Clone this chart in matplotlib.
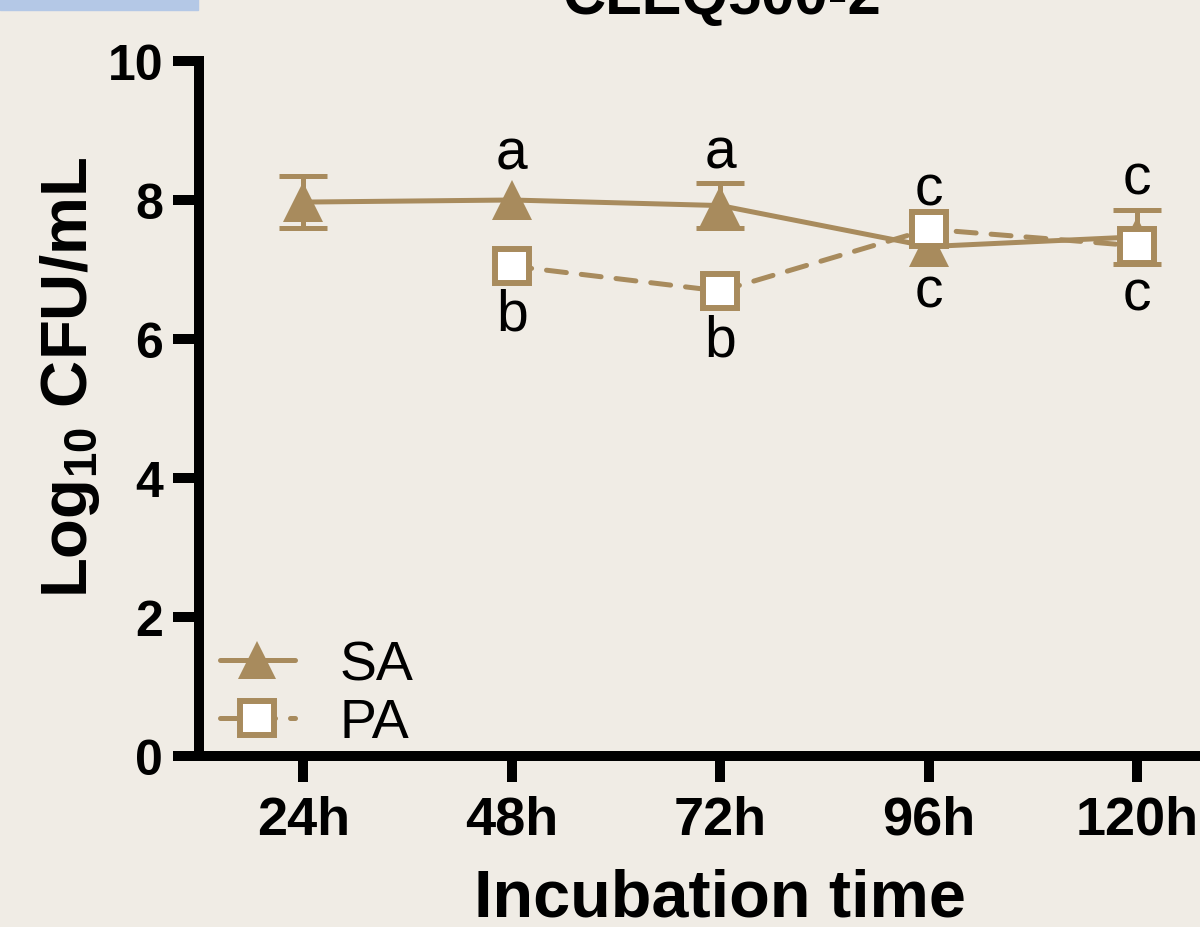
import matplotlib
matplotlib.use("Agg")
import matplotlib.pyplot as plt
from matplotlib.lines import Line2D
from matplotlib.patches import Rectangle
import numpy as np

# ---- data ----
times = ["24h", "48h", "72h", "96h", "120h"]
sa_mean = [7.97, 8.00, 7.92, 7.33, 7.47]
sa_err = [0.38, 0.0, 0.32, 0.0, 0.39]
pa_mean = [np.nan, 7.05, 6.69, 7.58, 7.34]
top_letters = ["", "a", "a", "c", "c"]
bottom_letters = ["", "b", "b", "c", "c"]
top_letter_y = [np.nan, 8.45, 8.47, 7.94, 8.09]
bottom_letter_y = [np.nan, 6.14, 5.76, 6.47, 6.43]
title = "CLEQ500-2"

BG = "#F0ECE5"
COL = "#A88B5D"

plt.rcParams["font.family"] = ["Liberation Sans", "DejaVu Sans"]
plt.rcParams["mathtext.fontset"] = "custom"
plt.rcParams["mathtext.rm"] = "Liberation Sans:bold"
plt.rcParams["mathtext.bf"] = "Liberation Sans:bold"

fig = plt.figure(figsize=(12, 9.28), dpi=100, facecolor=BG)
ax = fig.add_axes([199 / 1200, 1 - 757 / 928, 1042.5 / 1200, (757 - 62) / 928])
ax.set_facecolor(BG)

x = np.arange(len(times))

# SA line
ax.plot(x, sa_mean, color=COL, lw=3.6, marker="^", ms=29, mec=COL, mfc=COL,
        mew=0, zorder=3, label="SA", solid_capstyle="round")
# error bars for SA (only where visible)
idx = [i for i, e in enumerate(sa_err) if e > 0]
ax.errorbar(x[idx], np.array(sa_mean)[idx], yerr=np.array(sa_err)[idx], fmt="none",
            ecolor=COL, elinewidth=3.6, capsize=17, capthick=3.6, zorder=2)
# PA line
ax.plot(x, pa_mean, color=COL, lw=3.6, ls=(0, (4, 3)), dash_capstyle="round",
        marker="s", ms=25, mec=COL, mfc="white", mew=4.3, zorder=4, label="PA")

# significance letters
for i in range(len(times)):
    if top_letters[i]:
        ax.text(x[i], top_letter_y[i], top_letters[i], ha="center", va="baseline",
                fontsize=41, color="black", zorder=5)
    if bottom_letters[i]:
        ax.text(x[i], bottom_letter_y[i], bottom_letters[i], ha="center", va="baseline",
                fontsize=41, color="black", zorder=5)

ax.set_xlim(-0.5, 4.5)
ax.set_ylim(0, 10)
ax.set_xticks(x)
ax.set_xticklabels(times)
ax.set_yticks([0, 2, 4, 6, 8, 10])
for s in ["top", "right"]:
    ax.spines[s].set_visible(False)
for s in ["left", "bottom"]:
    ax.spines[s].set_linewidth(7.2)
    ax.spines[s].set_color("black")
ax.tick_params(axis="both", which="major", length=19, width=7.2, color="black")
ax.tick_params(axis="x", pad=9, labelsize=39)
ax.tick_params(axis="y", pad=7, labelsize=36)
for lab in ax.get_xticklabels() + ax.get_yticklabels():
    lab.set_fontweight("bold")

ax.set_xlabel("Incubation time", fontsize=48, fontweight="bold", labelpad=16)
fig.text(70 / 1200, 1 - 377 / 928, r"Log$_{\mathregular{10}}$ CFU/mL", rotation=90,
         ha="center", va="center", fontsize=47, fontweight="bold")

# legend
handles = [
    Line2D([], [], color=COL, lw=3.6, marker="^", ms=27, mfc=COL, mew=0,
           solid_capstyle="round"),
    Line2D([], [], color=COL, lw=3.6, ls=(0, (4, 3)), dash_capstyle="round",
           marker="s", ms=25, mec=COL, mfc="white", mew=4.3),
]
ax.legend(handles, ["SA", "PA"], loc="lower left", bbox_to_anchor=(0.02, 0.01),
          frameon=False, fontsize=40, handlelength=1.35, handletextpad=0.8,
          labelspacing=0.1, borderpad=0, borderaxespad=0)

# title (partially cut at top, as in the reference) and blue tab
fig.text(722 / 1200, 1 - 14 / 928, title, ha="center", va="baseline",
         fontsize=43, fontweight="bold")
fig.patches.append(Rectangle((0, 1 - 11 / 928), 198 / 1200, 11 / 928,
                             transform=fig.transFigure, color="#B4C8E6", zorder=10))

fig.savefig("out.png", dpi=100, facecolor=BG)
